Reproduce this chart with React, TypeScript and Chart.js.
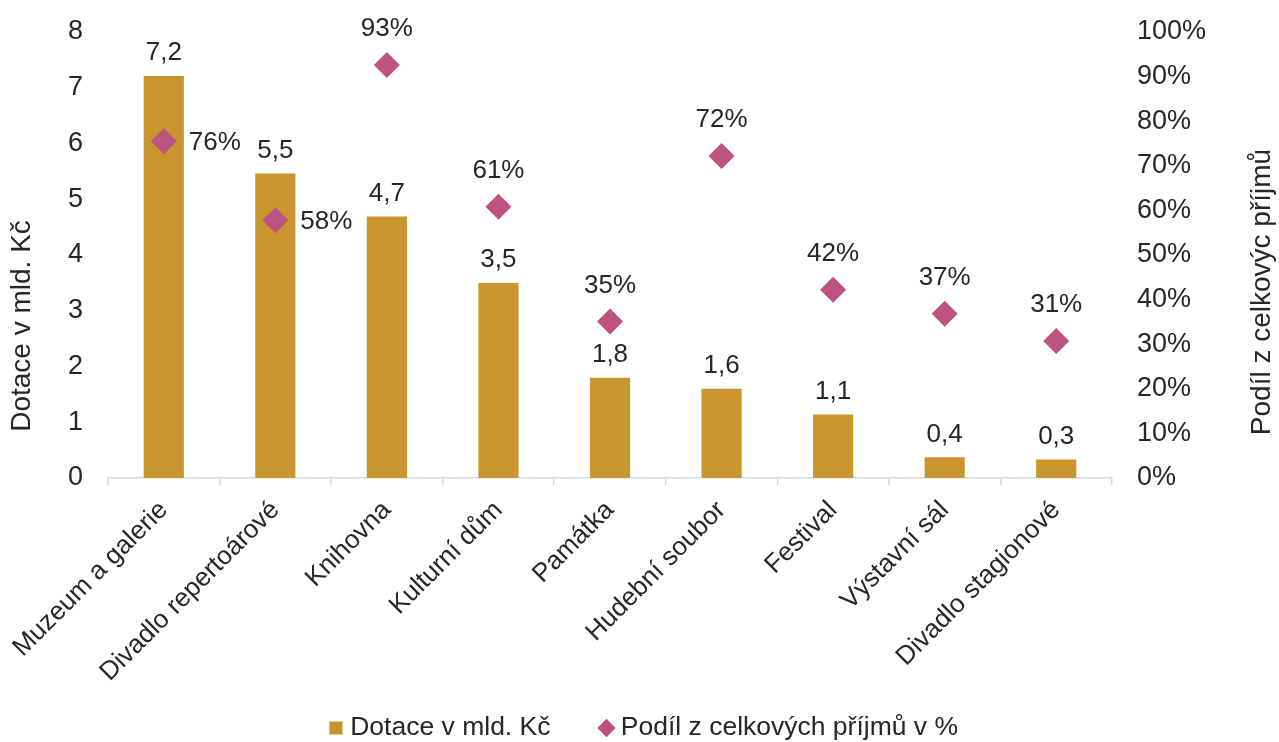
import React, { useEffect, useRef } from "react";
import { Chart, registerables } from "chart.js";

Chart.register(...registerables);

const categories = [
  "Muzeum a galerie",
  "Divadlo repertoárové",
  "Knihovna",
  "Kulturní dům",
  "Památka",
  "Hudební soubor",
  "Festival",
  "Výstavní sál",
  "Divadlo stagionové",
];
const dotace = [7.21, 5.46, 4.69, 3.5, 1.8, 1.6, 1.14, 0.37, 0.33];
const podil = [75.5, 57.8, 92.6, 60.8, 35.1, 72.2, 42.2, 36.8, 30.7];
const dotaceLabel = "Dotace v mld. Kč";
const podilLabel = "Podíl z celkových příjmů v %";
const leftTitle = "Dotace v mld. Kč";
const rightTitle = "Podíl z celkovýc příjmů";

const FONT = "'Liberation Sans', Arial, sans-serif";
const TEXT = "#262626";
const BAR = "#C9952F";
const DIAMOND = "#BD5380";
const LEGEND_PAD = 55;
const LEGEND_FONT = 26.5;

const labelsPlugin = {
  id: "valueLabels",
  afterLayout(chart: any) {
    const lg = chart.legend;
    if (lg) {
      const dy = 728 - (lg.top + LEGEND_PAD + LEGEND_FONT / 2);
      lg.top += dy;
      lg.bottom += dy;
      lg.left += 7;
      lg.right += 7;
    }
    // let the rotated category labels extend below the axis box (no clipping)
    const xs = chart.scales.x;
    if (xs) xs.bottom = chart.height;
  },
  afterDatasetsDraw(chart: any) {
    const ctx = chart.ctx;
    ctx.save();
    ctx.font = `26px ${FONT}`;
    ctx.fillStyle = TEXT;
    ctx.textBaseline = "middle";
    const barMeta = chart.getDatasetMeta(0);
    barMeta.data.forEach((el: any, i: number) => {
      ctx.textAlign = "center";
      ctx.fillText(dotace[i].toFixed(1).replace(".", ","), el.x, el.y - 23);
    });
    const ptMeta = chart.getDatasetMeta(1);
    ptMeta.data.forEach((el: any, i: number) => {
      const txt = Math.round(podil[i]) + "%";
      if (i < 2) {
        ctx.textAlign = "left";
        ctx.fillText(txt, el.x + 25, el.y + 2);
      } else {
        ctx.textAlign = "center";
        ctx.fillText(txt, el.x, el.y - 36);
      }
    });
    // axis titles
    ctx.font = `28px ${FONT}`;
    ctx.textAlign = "center";
    ctx.save();
    ctx.translate(22, 326);
    ctx.rotate(-Math.PI / 2);
    ctx.fillText(leftTitle, 0, 0);
    ctx.restore();
    ctx.save();
    ctx.translate(1262, 292);
    ctx.rotate(-Math.PI / 2);
    ctx.fillText(rightTitle, 0, 0);
    ctx.restore();
    ctx.restore();
  },
};

export default function App() {
  const ref = useRef<HTMLCanvasElement>(null);
  useEffect(() => {
    document.body.style.margin = "0";
    const chart = new Chart(ref.current as HTMLCanvasElement, {
      type: "bar",
      data: {
        labels: categories,
        datasets: [
          {
            type: "bar",
            label: dotaceLabel,
            data: dotace,
            backgroundColor: BAR,
            yAxisID: "y",
            barPercentage: 0.36,
            categoryPercentage: 1,
            order: 2,
            pointStyle: "rect",
          } as any,
          {
            type: "line",
            label: podilLabel,
            data: podil,
            yAxisID: "y1",
            showLine: false,
            pointStyle: "rectRot",
            pointRadius: 13,
            pointHoverRadius: 13,
            pointBorderWidth: 0,
            borderWidth: 0,
            backgroundColor: DIAMOND,
            borderColor: DIAMOND,
            pointBackgroundColor: DIAMOND,
            order: 1,
          } as any,
        ],
      },
      options: {
        responsive: false,
        animation: false,
        layout: { padding: { top: 32, left: 0, right: 0, bottom: 0 } },
        plugins: {
          tooltip: { enabled: false },
          legend: {
            position: "bottom",
            labels: {
              usePointStyle: true,
              boxWidth: 2,
              boxHeight: 13,
              padding: LEGEND_PAD,
              color: TEXT,
              font: { family: FONT, size: LEGEND_FONT },
              sort: (a: any, b: any) => a.datasetIndex - b.datasetIndex,
            },
          },
        },
        scales: {
          x: {
            offset: true,
            grid: {
              display: true,
              drawOnChartArea: false,
              drawTicks: true,
              tickLength: 7,
              color: "#D9D9D9",
              lineWidth: 1.5,
              offset: true,
            },
            border: { color: "#D9D9D9", width: 1.5 },
            ticks: {
              autoSkip: false,
              maxRotation: 45,
              minRotation: 45,
              padding: 10,
              color: TEXT,
              font: { family: FONT, size: 26 },
            },
            afterFit(scale: any) {
              const lh = scale.chart.legend ? scale.chart.legend.height : 136;
              scale.height = scale.chart.height - 478 - lh;
            },
          },
          y: {
            position: "left",
            min: 0,
            max: 8,
            ticks: {
              stepSize: 1,
              padding: 13,
              color: TEXT,
              font: { family: FONT, size: 27 },
            },
            grid: { display: false, drawTicks: true, tickLength: 12 },
            border: { display: false },
            afterFit(scale: any) {
              scale.width = 108;
            },
          },
          y1: {
            position: "right",
            min: 0,
            max: 100,
            ticks: {
              stepSize: 10,
              padding: 13,
              color: TEXT,
              font: { family: FONT, size: 27 },
              callback: (v: any) => v + "%",
            },
            grid: { display: false, drawTicks: true, tickLength: 12 },
            border: { display: false },
            afterFit(scale: any) {
              scale.width = 167;
            },
          },
        },
      } as any,
      plugins: [labelsPlugin],
    });
    return () => chart.destroy();
  }, []);
  return (
    <div style={{ width: 1279, height: 742 }}>
      <canvas ref={ref} width={1279} height={742} style={{ display: "block" }} />
    </div>
  );
}
